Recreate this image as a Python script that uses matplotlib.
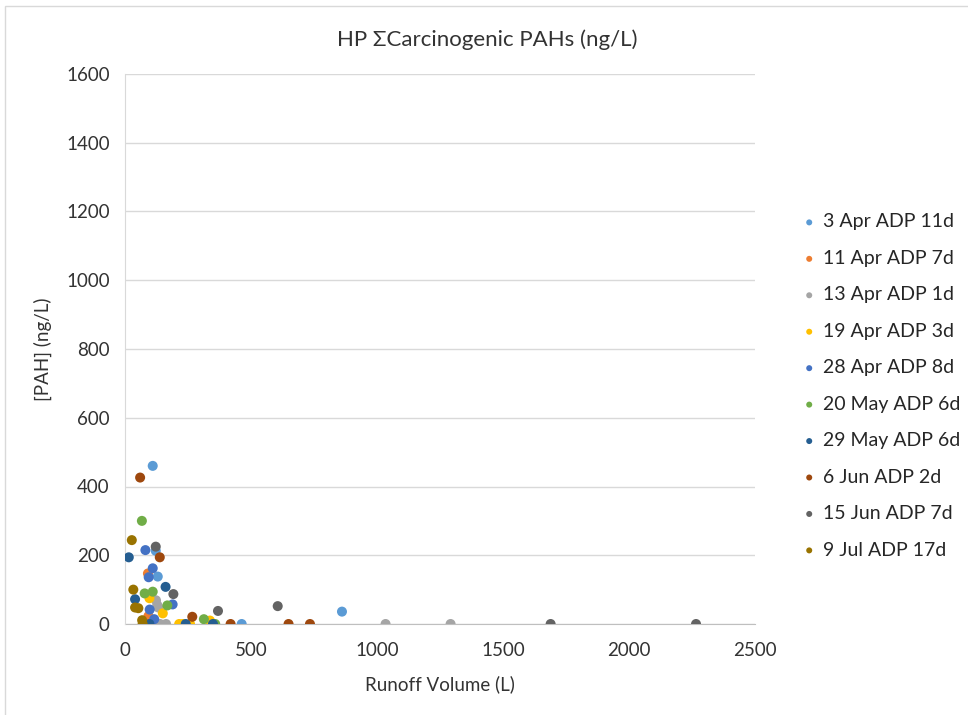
import matplotlib
matplotlib.use("Agg")
import matplotlib.pyplot as plt
from matplotlib.patches import Rectangle

plt.rcParams['font.family'] = ['Lato', 'DejaVu Sans']

# series: runoff volume (L) and summed carcinogenic PAH (ng/L)
labels = ["3 Apr ADP 11d", "11 Apr ADP 7d", "13 Apr ADP 1d", "19 Apr ADP 3d",
          "28 Apr ADP 8d", "20 May ADP 6d", "29 May ADP 6d", "6 Jun ADP 2d",
          "15 Jun ADP 7d", "9 Jul ADP 17d"]
colors = ["#5B9BD5", "#ED7D31", "#A5A5A5", "#FFC000", "#4472C4",
          "#70AD47", "#255E91", "#9E480E", "#636363", "#997300"]

apr03_x = [110, 122, 130, 463, 861]
apr03_y = [460, 213, 138, 0, 36]
apr11_x = [91, 93]
apr11_y = [147, 23]
apr13_x = [123, 128, 132, 139, 163, 1034, 1292]
apr13_y = [69, 55, 48, 0, 0, 0, 0]
apr19_x = [97, 150, 215, 230, 258, 337]
apr19_y = [75, 31, 0, 0, 0, 10]
apr28_x = [81, 110, 94, 98, 116, 189]
apr28_y = [215, 162, 136, 42, 14, 57]
may20_x = [67, 78, 110, 168, 313, 358]
may20_y = [300, 89, 94, 54, 14, 0]
may29_x = [15, 161, 40, 97, 241, 349]
may29_y = [194, 108, 72, 0, 0, 0]
jun06_x = [60, 138, 267, 419, 649, 734]
jun06_y = [426, 194, 21, 0, 0, 0]
jun15_x = [122, 192, 369, 606, 1689, 2266]
jun15_y = [225, 87, 38, 52, 0, 0]
jul09_x = [27, 33, 40, 53, 68, 70]
jul09_y = [244, 100, 48, 46, 11, 0]

xs = [apr03_x, apr11_x, apr13_x, apr19_x, apr28_x, may20_x, may29_x, jun06_x, jun15_x, jul09_x]
ys = [apr03_y, apr11_y, apr13_y, apr19_y, apr28_y, may20_y, may29_y, jun06_y, jun15_y, jul09_y]

fig = plt.figure(figsize=(9.68, 7.15), dpi=100)
ax = fig.add_axes([125 / 968, 1 - 624 / 715, 630 / 968, 550 / 715])

for x, y, c, lab in zip(xs, ys, colors, labels):
    ax.scatter(x, y, s=52, color=c, label=lab, edgecolors='none', zorder=3)

ax.set_xlim(0, 2500)
ax.set_ylim(0, 1600)
ax.set_xticks(range(0, 2501, 500))
ax.set_yticks(range(0, 1601, 200))
ax.grid(axis='y', color='#D9D9D9', linewidth=1)
ax.set_axisbelow(True)
for side in ['top', 'right']:
    ax.spines[side].set_visible(False)
ax.spines['left'].set_color('#D9D9D9')
ax.spines['bottom'].set_color('#BFBFBF')
ax.spines['bottom'].set_zorder(2)
ax.tick_params(length=0, labelsize=13.5, colors='#333333')
ax.tick_params(axis='y', pad=11)
ax.tick_params(axis='x', pad=13)

ax.set_xlabel("Runoff Volume (L)", fontsize=13.5, color='#333333', labelpad=12)
ax.set_ylabel("[PAH] (ng/L)", fontsize=13.5, color='#333333', labelpad=10)
fig.text(487 / 968, 1 - 40 / 715, "HP ΣCarcinogenic PAHs (ng/L)", ha='center', va='center',
         fontsize=16, color='#333333')

fig.legend(loc='center left', bbox_to_anchor=(782 / 968, 1 - 386 / 715), frameon=False,
           fontsize=14, markerscale=0.6, handlelength=1.0, handletextpad=0.2,
           labelspacing=1.0, labelcolor='#262626')

fig.patches.append(Rectangle((5 / 968, -0.01), 1.0, 1 - 6 / 715 + 0.01, transform=fig.transFigure,
                             fill=False, edgecolor='#D9D9D9', linewidth=1))

fig.savefig("out.png", dpi=100)
